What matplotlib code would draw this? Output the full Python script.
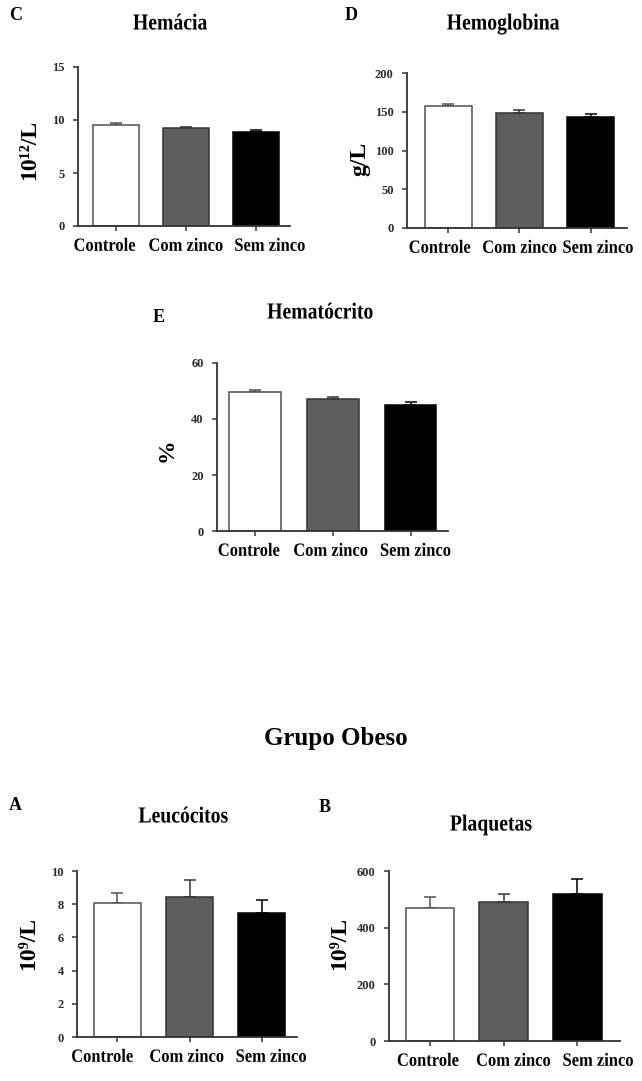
import matplotlib
matplotlib.use('Agg')
import matplotlib.pyplot as plt
from matplotlib import patheffects
from matplotlib.transforms import Affine2D

plt.rcParams['font.family'] = ['Liberation Serif', 'DejaVu Serif']
plt.rcParams['font.weight'] = 'bold'

W, H = 642, 1081

groups = ['Controle', 'Com zinco', 'Sem zinco']
bar_colors = ['#ffffff', '#5e5e5e', '#000000']
edge_colors = ['#505050', '#333333', '#000000']

hemacia = [9.55, 9.25, 8.85]
hemacia_err = [0.2, 0.12, 0.25]
hemoglobina = [157, 149, 143.5]
hemoglobina_err = [3, 3.3, 4]
hematocrito = [49.5, 47.2, 45.1]
hematocrito_err = [1.0, 0.7, 1.0]
leucocitos = [8.05, 8.45, 7.45]
leucocitos_err = [0.6, 1.0, 0.8]
plaquetas = [469, 489, 519]
plaquetas_err = [41, 30, 52]


class Squeeze(patheffects.AbstractPathEffect):
    # narrows the glyphs around the text centre (the original uses a condensed face)
    def __init__(self, sx):
        super().__init__()
        self.sx = sx

    def draw_path(self, renderer, gc, tpath, affine, rgbFace=None):
        ext = tpath.get_extents()
        cx = (ext.x0 + ext.x1) / 2
        t = Affine2D().translate(-cx, 0).scale(self.sx, 1).translate(cx, 0) + affine
        renderer.draw_path(gc, tpath, t, rgbFace)


narrow_lbl = [Squeeze(0.88)]
narrow_title = [Squeeze(0.86)]

fig = plt.figure(figsize=(W / 100, H / 100), dpi=100)


def px_axes(left, top, right, bottom):
    return fig.add_axes([left / W, 1 - bottom / H, (right - left) / W, (bottom - top) / H])


def txt(x, y, s, **kw):
    fig.text(x / W, 1 - y / H, s, ha='center', va='center', fontweight='bold', **kw)


def panel(box, values, errs, ymax, yticks, xlim, lbl_shift):
    ax = px_axes(*box)
    x = list(range(len(values)))
    ax.bar(x, values, width=0.66, color=bar_colors, edgecolor=edge_colors, linewidth=1.1, zorder=2)
    for i in x:
        ax.errorbar(i, values[i], yerr=[[0], [errs[i]]], fmt='none', ecolor=edge_colors[i],
                    elinewidth=1.1, capsize=4.5, capthick=1.1, zorder=1)
    ax.set_ylim(0, ymax)
    ax.set_xlim(*xlim)
    ax.set_yticks(yticks)
    # tick marks under the bars, labels placed a little apart (as in the original)
    ax.xaxis.remove_overlapping_locs = False
    ax.set_xticks(x)
    ax.set_xticklabels([])
    ax.set_xticks([i + d for i, d in zip(x, lbl_shift)], minor=True)
    ax.set_xticklabels(groups, minor=True, fontsize=13.5, fontweight='bold')
    for lab in ax.get_xticklabels(minor=True):
        lab.set_path_effects(narrow_lbl)
    for lab in ax.get_yticklabels():
        lab.set_fontsize(9)
        lab.set_fontweight('bold')
        lab.set_color('#2a2a2a')
    for s in ['top', 'right']:
        ax.spines[s].set_visible(False)
    for s in ['left', 'bottom']:
        ax.spines[s].set_color('#333333')
        ax.spines[s].set_linewidth(1.3)
    ax.tick_params(axis='y', length=3.6, width=1.1, color='#333333', pad=6)
    ax.tick_params(axis='x', which='major', length=3.6, width=1.1, color='#333333')
    ax.tick_params(axis='x', which='minor', length=0, pad=8.5)
    ax.patch.set_alpha(0)
    return ax


# Hemácia
panel((78, 67, 290, 226), hemacia, hemacia_err, 15, [0, 5, 10, 15], (-0.54, 2.49),
      [-0.16, 0.0, 0.2])
txt(16, 16, 'C', fontsize=13)
txt(170, 24, 'Hemácia', fontsize=16.5, path_effects=narrow_title)
txt(30, 150, '10¹²/L', fontsize=17, rotation=90)

# Hemoglobina
panel((407, 73, 627, 228), hemoglobina, hemoglobina_err, 200, [0, 50, 100, 150, 200], (-0.58, 2.51),
      [-0.12, 0.0, 0.1])
txt(351, 16, 'D', fontsize=13)
txt(503, 24, 'Hemoglobina', fontsize=16.5, path_effects=narrow_title)
txt(360, 159, 'g/L', fontsize=17, rotation=90)

# Hematócrito
panel((217, 363, 448, 531), hematocrito, hematocrito_err, 60, [0, 20, 40, 60], (-0.49, 2.48),
      [-0.08, -0.03, 0.06])
txt(159, 317, 'E', fontsize=13)
txt(320, 313, 'Hematócrito', fontsize=16.5, path_effects=narrow_title)
txt(167, 450, '%', fontsize=17, rotation=90)

txt(336, 738, 'Grupo Obeso', fontsize=18)

# Leucócitos
panel((77, 871, 297, 1037), leucocitos, leucocitos_err, 10, [0, 2, 4, 6, 8, 10], (-0.56, 2.49),
      [-0.21, -0.04, 0.13])
txt(15, 806, 'A', fontsize=13)
txt(183, 817, 'Leucócitos', fontsize=16.5, path_effects=narrow_title)
txt(29, 943, '10⁹/L', fontsize=17, rotation=90)

# Plaquetas
panel((389, 871, 620, 1041), plaquetas, plaquetas_err, 600, [0, 200, 400, 600], (-0.56, 2.58),
      [-0.03, 0.13, 0.28])
txt(325, 808, 'B', fontsize=13)
txt(491, 825, 'Plaquetas', fontsize=16.5, path_effects=narrow_title)
txt(340, 943, '10⁹/L', fontsize=17, rotation=90)

fig.savefig('out.png', dpi=100, facecolor='white')
